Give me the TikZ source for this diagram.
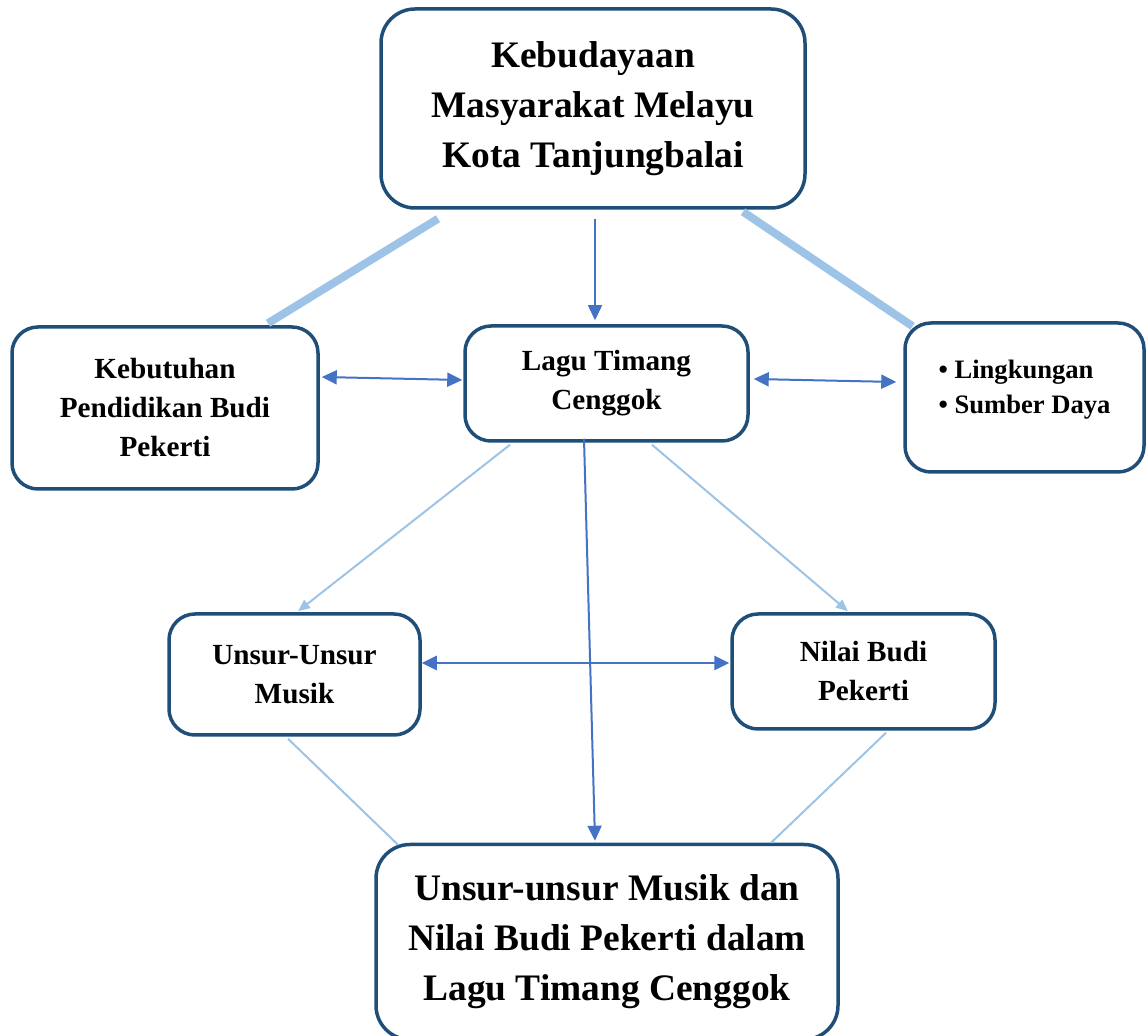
\documentclass[tikz,border=0pt]{standalone}
\usepackage{fontspec}
\setmainfont{Liberation Serif}
\usetikzlibrary{arrows.meta}
\definecolor{boxblue}{RGB}{31,78,121}
\definecolor{lineblue}{RGB}{157,195,230}
\definecolor{arrblue}{RGB}{68,114,196}

\begin{document}
\begin{tikzpicture}[x=0.5pt,y=-0.5pt,
  box/.style={draw=boxblue,line width=1.75pt,rounded corners=13pt,align=center,inner sep=0pt,
    font=\bfseries\fontsize{14.6}{19.5}\selectfont},
  bigbox/.style={box,rounded corners=17pt,font=\bfseries\fontsize{18.7}{25}\selectfont},
  link/.style={lineblue,line width=1pt},
  widelink/.style={lineblue,line width=4pt},
  arr/.style={arrblue,line width=1pt},
  >={Triangle[length=7.5pt,width=7pt]}]
  \useasboundingbox (0,0) rectangle (1146,1036);
  % boxes
  \node[bigbox,minimum width=212pt,minimum height=99.5pt] (top) at (593,108.5)
    {Kebudayaan\\Masyarakat Melayu\\Kota Tanjungbalai};
  \node[box,minimum width=153pt,minimum height=81pt] (need) at (165,408)
    {Kebutuhan\\Pendidikan Budi\\Pekerti};
  \node[box,minimum width=141.5pt,minimum height=57.5pt] (lagu) at (606.5,383.5)
    {Lagu Timang\\Cenggok};
  \node[box,minimum width=119.5pt,minimum height=74.5pt,align=left,
    font=\bfseries\fontsize{13.3}{17.5}\selectfont] (env) at (1024.5,397.5)
    {\textbullet\ Lingkungan\\\textbullet\ Sumber Daya\rule[-11pt]{0pt}{0pt}};
  \node[box,minimum width=125.5pt,minimum height=60.5pt] (unsur) at (294.5,674.5)
    {Unsur-Unsur\\Musik};
  \node[box,minimum width=131.5pt,minimum height=57.5pt] (nilai) at (863.5,671.5)
    {Nilai Budi\\Pekerti};
  \node[bigbox,minimum width=231pt,minimum height=97.5pt] (result) at (607,942)
    {Unsur-unsur Musik dan\\Nilai Budi Pekerti dalam\\Lagu Timang Cenggok};
  % connectors
  \draw[widelink] ([shift={(-155,9)}]top.south) -- ([shift={(103,-2)}]need.north);
  \draw[widelink] ([shift={(150,2)}]top.south) -- ([shift={(-112,5)}]env.north);
  \draw[arr,->,line width=0.75pt] ([shift={(2,9)}]top.south) -- ([shift={(-11.5,-4)}]lagu.north);
  \draw[arr,<->] ([shift={(2,-31)}]need.east) -- ([shift={(-1,-3.5)}]lagu.west);
  \draw[arr,<->] ([shift={(4,-4.5)}]lagu.east) -- ([shift={(-7,-15.5)}]env.west);
  \draw[link,-{Triangle[length=6pt,width=5pt]}] ([shift={(-96.5,2)}]lagu.south) -- ([shift={(3.5,-1)}]unsur.north);
  \draw[link,-{Triangle[length=6pt,width=5pt]}] ([shift={(45.5,2)}]lagu.south) -- ([shift={(-15.5,-1)}]nilai.north);
  \draw[arr,->] ([shift={(-22.5,-4)}]lagu.south) -- ([shift={(-12,-2)}]result.north);
  \draw[arr,<->,line width=1.3pt] ([shift={(0,-11.5)}]unsur.east) -- ([shift={(-1,-8.5)}]nilai.west);
  \draw[link] ([shift={(-6.5,2)}]unsur.south) -- ([shift={(-209,2)}]result.north);
  \draw[link] ([shift={(22.5,2)}]nilai.south) -- ([shift={(164,0)}]result.north);
\end{tikzpicture}
\end{document}
